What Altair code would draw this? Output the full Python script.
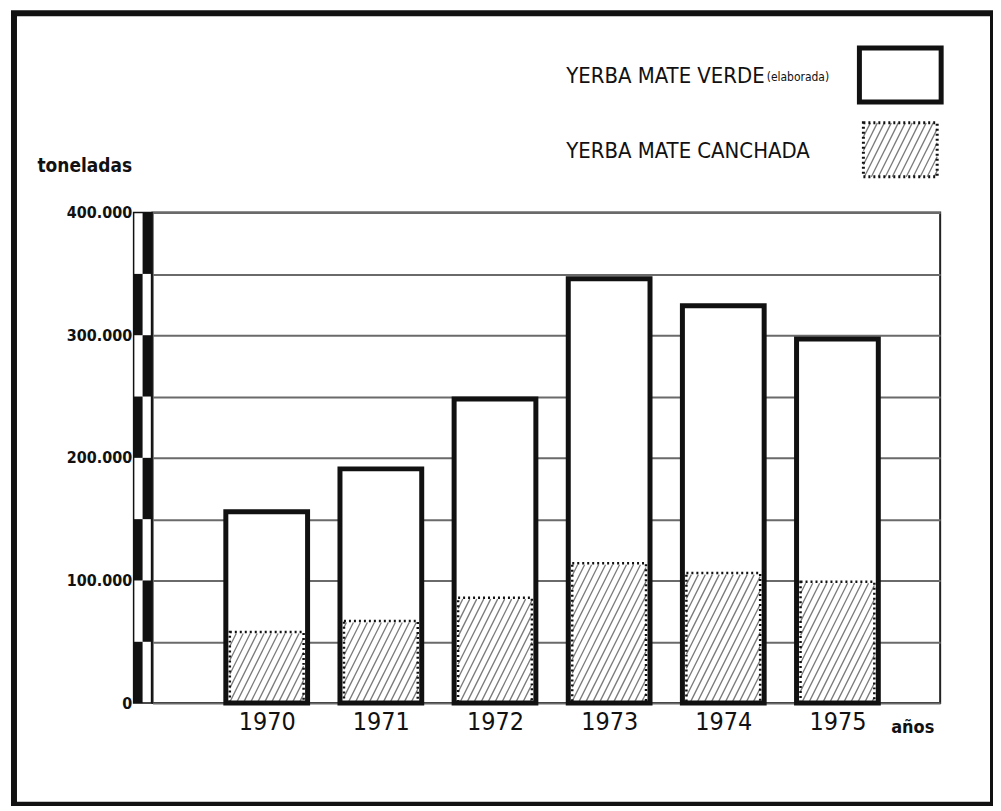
import math
import altair as alt
import pandas as pd

# ---------------- data ----------------
YEARS = [1970, 1971, 1972, 1973, 1974, 1975]
VERDE = [156000, 191000, 248000, 346000, 324000, 297000]      # yerba mate verde (elaborada), total bar
CANCHADA = [58000, 67000, 86000, 114000, 106000, 99000]       # yerba mate canchada, hatched part
SERIES = ["YERBA MATE VERDE", "YERBA MATE CANCHADA"]
SERIES_NOTE = "(elaborada)"
Y_TICKS = [0, 50000, 100000, 150000, 200000, 250000, 300000, 350000, 400000]
Y_TITLE = "toneladas"
X_TITLE = "años"

# ---------------- layout ----------------
W, H = 790, 492
XMIN, XMAX = 1969.0, 1975.9
YMAX = 400000
PPX = W / (XMAX - XMIN)
PPY = H / YMAX
FONT = "Liberation Sans Narrow, DejaVu Sans Condensed, Arial Narrow, sans-serif"
INK = "#111111"

xs = alt.Scale(domain=[XMIN, XMAX], nice=False, zero=False)
ys = alt.Scale(domain=[0, YMAX], nice=False, zero=True)

OUT_HALF = 41 / PPX
IN_HALF = 37 / PPX

bars = pd.DataFrame({"year": YEARS, "verde": VERDE, "canchada": CANCHADA})
bars["x0"] = bars["year"] - OUT_HALF
bars["x1"] = bars["year"] + OUT_HALF
bars["i0"] = bars["year"] - IN_HALF
bars["i1"] = bars["year"] + IN_HALF


def hatch(u0, u1, vb, vt, step=7.0, slope=2.0):
    segs = []
    h = vt - vb
    t = math.floor((u0 - h / slope) / step) * step
    while t < u1:
        a = max(t, u0)
        b = min(t + h / slope, u1)
        if b > a + 0.3:
            segs.append((a, vb + slope * (a - t), b, vb + slope * (b - t)))
        t += step
    return segs


def to_data(segs):
    return [
        {"xa": XMIN + a / PPX, "ya": va / PPY, "xb": XMIN + b / PPX, "yb": vb / PPY}
        for a, va, b, vb in segs
    ]


rows = []
for yr, c in zip(YEARS, CANCHADA):
    u = (yr - XMIN) * PPX
    rows += to_data(hatch(u - 37, u + 37, 0, c * PPY - 1.5))
# legend swatch (placed above the plot)
rows += to_data(hatch(713, 787, H + 36, H + 90))
stripes = pd.DataFrame(rows)

one = pd.DataFrame({"k": [0]})

# ---------------- axes (identical in every layer so they merge) ----------------
y_axis = alt.Axis(
    values=Y_TICKS,
    labelExpr="datum.value % 100000 == 0 ? replace(format(datum.value, ','), ',', '.') : ''",
    grid=True, gridColor="#6a6a6a", gridWidth=2,
    domain=False, ticks=False, labelPadding=21,
    labelFont=FONT, labelFontSize=16, labelFontWeight="bold", labelColor=INK,
    title=Y_TITLE, titleAngle=0, titleAlign="left", titleBaseline="middle",
    titleX=-116, titleY=-47, titleFont=FONT, titleFontSize=19,
    titleFontWeight="bold", titleColor=INK,
)
x_axis = alt.Axis(
    values=YEARS, format="d", grid=False, domain=False, ticks=False,
    labelPadding=6, labelFont=FONT, labelFontSize=25, labelColor=INK,
    title=X_TITLE, titleX=762, titleY=29, titleAlign="center",
    titleBaseline="alphabetic", titleFont=FONT, titleFontSize=18,
    titleFontWeight="bold", titleColor=INK,
)


def X(field):
    return alt.X(field, scale=xs, axis=x_axis)


def Y(field):
    return alt.Y(field, scale=ys, axis=y_axis)


outer_fill = alt.Chart(bars).mark_rect(fill="white").encode(
    x=X("x0:Q"), x2="x1:Q", y=Y("verde:Q"), y2=alt.datum(0),
)

hatch_lines = alt.Chart(stripes).mark_rule(color="#7a7a7a", strokeWidth=1.3).encode(
    x=X("xa:Q"), x2="xb:Q", y=Y("ya:Q"), y2="yb:Q",
)

canch_edge = alt.Chart(bars).mark_rect(
    fill="transparent", stroke=INK, strokeWidth=2.5, strokeDash=[2, 3]
).encode(x=X("i0:Q"), x2="i1:Q", y=Y("canchada:Q"), y2=alt.datum(0))

outer_edge = alt.Chart(bars).mark_rect(
    fill="transparent", stroke=INK, strokeWidth=5
).encode(x=X("x0:Q"), x2="x1:Q", y=Y("verde:Q"), y2=alt.datum(0))

# y-axis checkerboard bar
seg = alt.Chart(alt.sequence(0, YMAX, 50000, as_="lo")).transform_calculate(
    hi="datum.lo + 50000", par="(datum.lo / 50000) % 2"
)
left_col = seg.transform_filter("datum.par == 0").mark_rect(fill=INK).encode(
    x=alt.value(-19), x2=alt.value(-10), y=Y("lo:Q"), y2="hi:Q",
)
right_col = seg.transform_filter("datum.par == 1").mark_rect(fill=INK).encode(
    x=alt.value(-10), x2=alt.value(-1), y=Y("lo:Q"), y2="hi:Q",
)
bar_outline = alt.Chart(one).mark_rect(
    fill="transparent", stroke=INK, strokeWidth=1.5
).encode(x=alt.value(-19), x2=alt.value(-1), y=alt.value(0), y2=alt.value(H))

# legend
leg_box1 = alt.Chart(one).mark_rect(fill="white", stroke=INK, strokeWidth=5).encode(
    x=alt.value(709), x2=alt.value(791), y=alt.value(-165), y2=alt.value(-111)
)
leg_box2 = alt.Chart(one).mark_rect(
    fill="transparent", stroke=INK, strokeWidth=3, strokeDash=[2, 3]
).encode(x=alt.value(713), x2=alt.value(787), y=alt.value(-90), y2=alt.value(-36))

leg_text1 = alt.Chart(pd.DataFrame({"label": [SERIES[0]]})).mark_text(
    align="left", baseline="middle", font=FONT, fontSize=22, color=INK
).encode(x=alt.value(415), y=alt.value(-137), text="label:N")
leg_note = alt.Chart(pd.DataFrame({"label": [SERIES_NOTE]})).mark_text(
    align="left", baseline="middle", font=FONT, fontSize=12, color=INK
).encode(x=alt.value(616), y=alt.value(-136), text="label:N")
leg_text2 = alt.Chart(pd.DataFrame({"label": [SERIES[1]]})).mark_text(
    align="left", baseline="middle", font=FONT, fontSize=22, color=INK
).encode(x=alt.value(415), y=alt.value(-62), text="label:N")

frame = alt.Chart(one).mark_rect(fill="transparent", stroke=INK, strokeWidth=6).encode(
    x=alt.value(-139), x2=alt.value(843), y=alt.value(-200), y2=alt.value(594)
)

chart = alt.layer(
    outer_fill, hatch_lines, canch_edge, outer_edge,
    left_col, right_col, bar_outline,
    leg_box1, leg_box2, leg_text1, leg_note, leg_text2, frame,
).properties(
    width=W, height=H,
    autosize=alt.AutoSizeParams(type="none"),
    padding={"left": 145, "top": 204, "right": 53, "bottom": 102},
    background="white",
).configure_view(stroke="#222222", strokeWidth=2)

chart.save("out.html", embed_options={"renderer": "svg", "actions": False})
